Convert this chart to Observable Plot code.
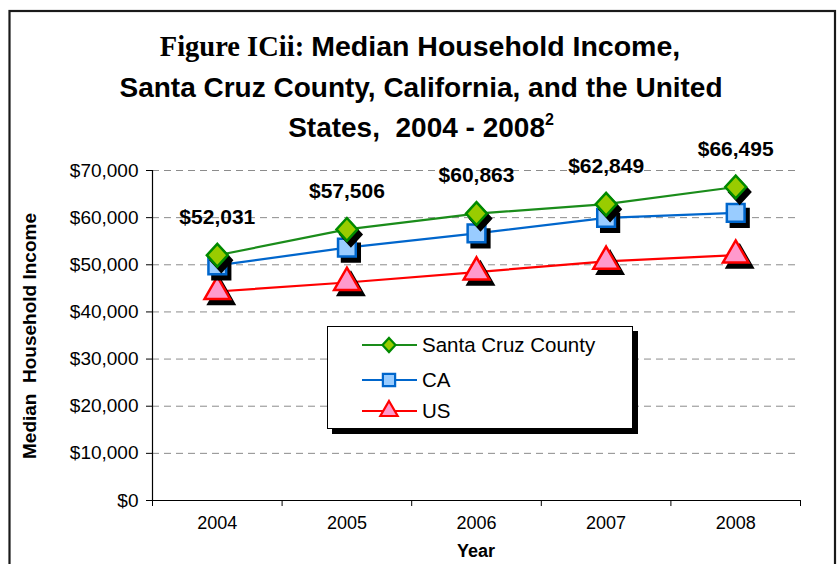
<!DOCTYPE html>
<html>
<head>
<meta charset="utf-8">
<script src="https://cdn.jsdelivr.net/npm/d3@7"></script>
<script src="https://cdn.jsdelivr.net/npm/@observablehq/plot@0.6"></script>
<style>
  html, body { margin: 0; padding: 0; background: white; }
  #chart { width: 840px; height: 564px; overflow: hidden; }
</style>
</head>
<body>
<div id="chart"></div>
<script>
const years = [2004, 2005, 2006, 2007, 2008];
const santaCruz = [52031, 57506, 60863, 62849, 66495];
const california = [49894, 53629, 56645, 59948, 61017];
const unitedStates = [44334, 46242, 48451, 50740, 52029];
const seriesNames = ["Santa Cruz County", "CA", "US"];
const yTicks = [0, 10000, 20000, 30000, 40000, 50000, 60000, 70000];
const xEdges = [2003.5, 2004.5, 2005.5, 2006.5, 2007.5, 2008.5];
const titleLines = ["Figure ICii:", "Median Household Income,", "Santa Cruz County, California, and the United", "States,  2004 - 2008", "2"];

const fmt = d3.format("$,");

const diamond = {
  draw(ctx, size) {
    const r = Math.sqrt(size / Math.PI);
    const w = r * 1.1, h = r * 1.2;
    ctx.moveTo(0, -h); ctx.lineTo(w, 0); ctx.lineTo(0, h); ctx.lineTo(-w, 0); ctx.closePath();
  }
};

const styles = [
  {name: seriesNames[0], values: santaCruz, stroke: "#008a00", line: "#1a8c1a", fill: "#99cc00", symbol: diamond, r: 9.5},
  {name: seriesNames[1], values: california, stroke: "#0066cc", line: "#0066cc", fill: "#99ccff", symbol: "square", r: 10},
  {name: seriesNames[2], values: unitedStates, stroke: "#ff0000", line: "#ff0000", fill: "#ff99cc", symbol: "triangle", r: 9.5}
];

const rowsOf = s => years.map((year, i) => ({year, value: s.values[i], series: s.name}));

const marks = [
  Plot.gridY(yTicks.filter(d => d > 0), {stroke: "#8c8c8c", strokeOpacity: 1, strokeDasharray: "7,5", strokeWidth: 1}),
  Plot.ruleY([0], {stroke: "black", strokeWidth: 1.2}),
  Plot.ruleX([2003.5], {stroke: "black", strokeWidth: 1.2}),
  Plot.axisY(yTicks, {tickFormat: fmt, tickSize: 6, tickPadding: 8, fontSize: 19, label: null}),
  Plot.axisX(xEdges, {tickFormat: () => "", tickSize: 6, label: null}),
  Plot.axisX(years, {tickFormat: d => String(d), tickSize: 0, tickPadding: 16, fontSize: 18, label: null})
];

for (const s of [...styles].reverse()) {
  marks.push(Plot.line(rowsOf(s), {x: "year", y: "value", stroke: s.line, strokeWidth: 2.2}));
}
for (const s of [...styles].reverse()) {
  marks.push(Plot.dot(rowsOf(s), {x: "year", y: "value", symbol: s.symbol, r: s.r, fill: "black", stroke: "black", strokeWidth: 2.5, dx: 4, dy: 5}));
  marks.push(Plot.dot(rowsOf(s), {x: "year", y: "value", symbol: s.symbol, r: s.r, fill: s.fill, stroke: s.stroke, strokeWidth: 2.5}));
}
marks.push(Plot.text(rowsOf(styles[0]), {x: "year", y: "value", text: d => fmt(d.value), dy: -38, fontSize: 21, fontWeight: "bold", fill: "black"}));

const chart = Plot.plot({
  width: 840,
  height: 564,
  marginLeft: 152,
  marginRight: 40,
  marginTop: 170,
  marginBottom: 64,
  style: {fontFamily: "'Liberation Sans', Arial, sans-serif", background: "white", color: "black"},
  x: {type: "linear", domain: [2003.5, 2008.5]},
  y: {type: "linear", domain: [0, 70000]},
  marks
});
document.getElementById("chart").appendChild(chart);

const svg = d3.select(chart);

// outer border
svg.append("rect").attr("x", 9.5).attr("y", 11).attr("width", 825.5).attr("height", 600)
  .attr("fill", "none").attr("stroke", "#1a1a1a").attr("stroke-width", 2.2);

// title
const title = svg.append("g").attr("text-anchor", "middle").attr("fill", "black");
const t1 = title.append("text").attr("x", 420).attr("y", 56).attr("font-size", 28.5);
t1.append("tspan").attr("font-family", "'Liberation Serif', 'DejaVu Serif', serif").attr("font-weight", "bold").text(titleLines[0] + " ");
t1.append("tspan").attr("font-family", "'Liberation Sans', Arial, sans-serif").attr("font-weight", "bold").text(titleLines[1]);
title.append("text").attr("x", 421).attr("y", 97).attr("font-size", 28)
  .attr("font-family", "'Liberation Sans', Arial, sans-serif").attr("font-weight", "bold").text(titleLines[2]);
const t3 = title.append("text").attr("x", 421).attr("y", 137).attr("font-size", 28)
  .attr("font-family", "'Liberation Sans', Arial, sans-serif").attr("font-weight", "bold");
t3.append("tspan").text(titleLines[3]);
t3.append("tspan").attr("font-size", 16).attr("dy", -12).text(titleLines[4]);

// axis titles
svg.append("text").attr("transform", "translate(36,336) rotate(-90)").attr("text-anchor", "middle")
  .attr("font-size", 19).attr("font-weight", "bold").attr("font-family", "'Liberation Sans', Arial, sans-serif")
  .attr("fill", "black").style("white-space", "pre").text("Median  Household Income");
svg.append("text").attr("x", 476).attr("y", 557).attr("text-anchor", "middle")
  .attr("font-size", 18).attr("font-weight", "bold").attr("font-family", "'Liberation Sans', Arial, sans-serif")
  .attr("fill", "black").text("Year");

// legend
const lg = svg.append("g").attr("text-anchor", "start");
lg.append("rect").attr("x", 332).attr("y", 331).attr("width", 306).attr("height", 103).attr("fill", "black");
lg.append("rect").attr("x", 327.5).attr("y", 326.5).attr("width", 305).attr("height", 102).attr("fill", "white").attr("stroke", "black").attr("stroke-width", 1);
const rowY = [345, 380, 411];
const legSyms = [diamond, d3.symbolSquare, d3.symbolTriangle];
const legSizes = [110, 150, 130];
styles.forEach((s, i) => {
  const y = rowY[i];
  lg.append("line").attr("x1", 362).attr("x2", 417).attr("y1", y).attr("y2", y).attr("stroke", s.line).attr("stroke-width", 2.2);
  lg.append("path").attr("d", d3.symbol(legSyms[i], legSizes[i])()).attr("transform", `translate(389,${y})`)
    .attr("fill", s.fill).attr("stroke", s.stroke).attr("stroke-width", 2.2);
  lg.append("text").attr("x", 422).attr("y", y).attr("dy", "0.35em").attr("font-size", 20.5)
    .attr("text-anchor", "start")
    .attr("font-family", "'Liberation Sans', Arial, sans-serif").attr("fill", "black").text(s.name);
});
</script>
</body>
</html>
